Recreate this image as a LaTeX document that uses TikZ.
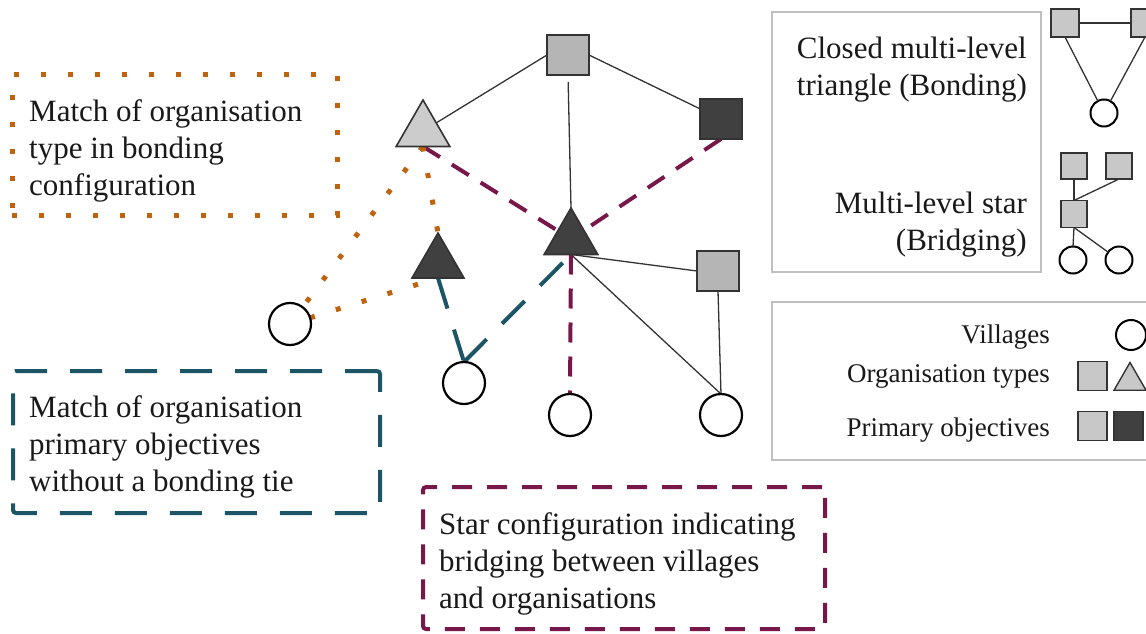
\documentclass[tikz,border=0pt]{standalone}
\usepackage{fontspec}
\setmainfont{Liberation Serif}
\usetikzlibrary{shapes.geometric,backgrounds}
\definecolor{orng}{HTML}{C0630F}
\definecolor{tealc}{HTML}{1B5566}
\definecolor{purp}{HTML}{78184A}
\definecolor{lgray}{HTML}{B5B5B5}
\definecolor{tgray}{HTML}{CCCCCC}
\definecolor{lgfill}{HTML}{C8C8C8}
\definecolor{dgray}{HTML}{404040}
\definecolor{boxgray}{HTML}{C0C0C0}
\definecolor{ink}{HTML}{333333}
\begin{document}
\begin{tikzpicture}[x=1pt,y=-1pt,
  sq/.style={rectangle, draw=ink, line width=1.6pt, fill=lgray, minimum width=42pt, minimum height=40pt, inner sep=0pt, outer sep=0pt},
  dsq/.style={sq, fill=dgray},
  tri/.style={regular polygon, regular polygon sides=3, draw=ink, line width=1.6pt, fill=tgray, minimum size=62pt, inner sep=0pt, outer sep=0pt},
  dtri/.style={tri, fill=dgray},
  vil/.style={circle, draw=black, line width=2.2pt, fill=white, minimum size=42pt, inner sep=0pt, outer sep=0pt},
  edge/.style={draw=ink, line width=1.3pt},
  bridge/.style={draw=purp, line width=4pt, dash pattern=on 20pt off 14pt},
  match/.style={draw=tealc, line width=4pt, dash pattern=on 32pt off 22pt},
  bond/.style={draw=orng, line width=5pt, dash pattern=on 5pt off 22pt},
  txt/.style={font=\fontsize{31}{37}\selectfont, text=black!90, inner sep=0pt, align=left},
  ltxt/.style={font=\fontsize{27}{32}\selectfont, text=black!90, inner sep=0pt},
  legbox/.style={rectangle, draw=boxgray, line width=2.6pt, inner sep=0pt},
  isq/.style={rectangle, draw=ink, line width=1.4pt, fill=lgfill, minimum width=28pt, minimum height=28pt, inner sep=0pt, outer sep=0pt},
  idsq/.style={isq, fill=dgray},
  ivil/.style={circle, draw=black, line width=2pt, fill=white, minimum size=27pt, inner sep=0pt, outer sep=0pt},
  itri/.style={regular polygon, regular polygon sides=3, draw=ink, line width=1.4pt, fill=lgfill, minimum size=37pt, inner sep=0pt, outer sep=0pt},
  iedge/.style={draw=ink, line width=1.3pt}
]
\useasboundingbox (0,0) rectangle (1146,634);

% ---------- graph nodes ----------
\node[sq]   (sqT) at (568,55) {};
\node[dsq]  (sqD) at (721,119) {};
\node[sq]   (sqR) at (718,271) {};
\node[tri]  (triL) at (423,131) {};
\node[dtri] (triC) at (571,239) {};
\node[dtri, minimum size=60pt] (triS) at (438,263) {};
\node[vil] (vL) at (290,324) {};
\node[vil] (v1) at (464,383) {};
\node[vil] (v2) at (570,415) {};
\node[vil] (v3) at (721,415) {};

\begin{scope}[on background layer]
\draw[edge] (sqT.west) -- (triL);
\draw[edge] (sqT.east) -- (sqD);
\draw[edge, shorten <=7pt] (sqT.south) -- (triC.corner 1);
\draw[edge] (triC.side 2) -- (sqR.west);
\draw[edge] (triC.side 2) -- (v3.north);
\draw[edge] (sqR.south) -- (v3.north);
\draw[bridge] (triL.side 2) -- (triC);
\draw[bridge] (sqD.south) -- (triC);
\draw[bridge] (triC.side 2) -- (v2.north);
\draw[match] (triS.side 2) -- (v1.north);
\draw[match] (v1.north) -- (triC.side 2);
\draw[bond] (triL.side 2) -- (triS.corner 1);
\draw[bond] (triL.side 2) -- (vL);
\draw[bond] (vL) -- (triS.side 2);
\end{scope}

% ---------- annotation boxes ----------
\node[rectangle, draw=orng, line width=5pt, dash pattern=on 5pt off 22pt, minimum width=325pt, minimum height=140pt, inner sep=0pt] (bbox) at (174.5,145) {};
\node[txt, anchor=west] (btxt) at (29,151) {Match of organisation\\type in bonding\\configuration};

\node[rectangle, draw=tealc, line width=4pt, dash pattern=on 32pt off 23pt, rounded corners=3pt, minimum width=367pt, minimum height=142pt, inner sep=0pt] (mbox) at (196.5,442) {};
\node[txt, anchor=west] (mtxt) at (29,447) {Match of organisation\\primary objectives\\without a bonding tie};

\node[rectangle, draw=purp, line width=4pt, dash pattern=on 20pt off 15pt, rounded corners=3pt, minimum width=402pt, minimum height=142pt, inner sep=0pt] (sbox) at (624,558) {};
\node[txt, anchor=west] (stxt) at (439,564) {Star configuration indicating\\bridging between villages\\and organisations};

% ---------- legend 1 ----------
\node[legbox, minimum width=269pt, minimum height=260pt] (leg1) at (906.5,142) {};
\node[txt, align=right, anchor=east] (l1a) at (1027,70) {Closed multi-level\\triangle (Bonding)};
\node[txt, align=right, anchor=east] (l1b) at (1027,225) {Multi-level star\\(Bridging)};

\node[isq] (tA) at (1065,23) {};
\node[isq] (tB) at (1145,23) {};
\node[ivil] (tC) at (1104,113) {};
\draw[iedge] (tA.east) -- (tB.west);
\draw[iedge] (tA.south) -- (tC);
\draw[iedge] (tB.south) -- (tC);

\node[isq, minimum width=26pt, minimum height=26pt] (s1) at (1074,166) {};
\node[isq, minimum width=26pt, minimum height=26pt] (s2) at (1119,166) {};
\node[isq, minimum width=26pt, minimum height=27pt] (s3) at (1074,214) {};
\node[ivil] (c1) at (1073,260) {};
\node[ivil] (c2) at (1119,260) {};
\draw[iedge] (s1.south) -- (s3.north);
\draw[iedge] (s2.south) -- (s3.north);
\draw[iedge] (s3.south) -- (c1.north);
\draw[iedge] (s3.south) -- (c2);

% ---------- legend 2 ----------
\node[legbox, minimum width=400pt, minimum height=158pt] (leg2) at (972,381) {};
\node[ltxt, anchor=base east] (lv) at (1050,343) {Villages};
\node[ltxt, anchor=base east] (lo) at (1050,382) {Organisation types};
\node[ltxt, anchor=base east] (lp) at (1050,436) {Primary objectives};
\node[ivil, minimum size=30pt] (gv) at (1131,335) {};
\node[isq, minimum width=29pt, minimum height=29pt] (go) at (1092.5,376) {};
\node[itri] (gt) at (1130,381) {};
\node[isq, minimum width=29pt, minimum height=29pt] (gp1) at (1092.5,426) {};
\node[idsq, minimum width=29pt, minimum height=29pt] (gp2) at (1128.5,426) {};
\end{tikzpicture}
\end{document}
